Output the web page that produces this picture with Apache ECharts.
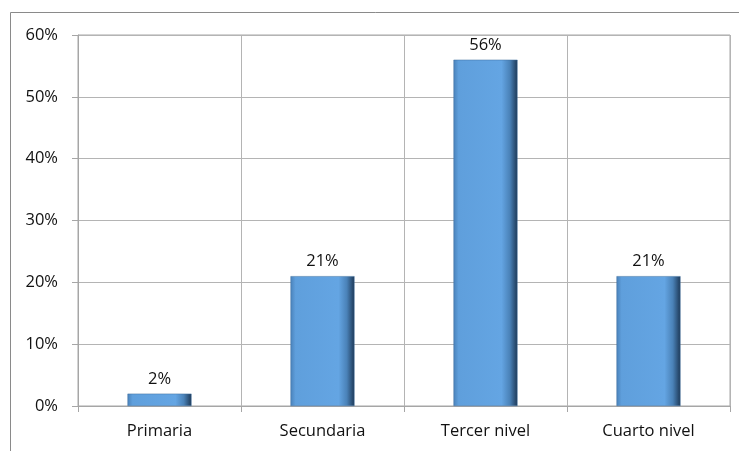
<!DOCTYPE html>
<html>
<head>
<meta charset="utf-8">
<script src="https://cdn.jsdelivr.net/npm/echarts@6/dist/echarts.min.js"></script>
<style>html,body{margin:0;padding:0;background:#fff}#c{width:739px;height:451px}</style>
</head>
<body>
<div id="c"></div>
<script>
const categories = ['Primaria', 'Secundaria', 'Tercer nivel', 'Cuarto nivel'];
const values = [2, 21, 56, 21];
const yTicks = [0, 10, 20, 30, 40, 50, 60];

const chart = echarts.init(document.getElementById('c'), null, {renderer: 'canvas'});
const font = '"Open Sans", sans-serif';
chart.setOption({
  animation: false,
  backgroundColor: '#fff',
  graphic: [{
    type: 'rect', silent: true,
    shape: {x: 10.5, y: 12.5, width: 800, height: 600},
    style: {fill: 'none', stroke: '#8a8a8a', lineWidth: 1}
  }],
  grid: {left: 78, right: 9, top: 35, bottom: 45, show: true, borderColor: '#a6a6a6', borderWidth: 1},
  xAxis: {
    type: 'category', data: categories,
    axisLine: {lineStyle: {color: '#a6a6a6'}},
    axisTick: {show: true, length: 6, lineStyle: {color: '#a6a6a6'}},
    splitLine: {show: true, lineStyle: {color: '#b4b4b4'}},
    axisLabel: {color: '#111', fontSize: 16.5, fontFamily: font, margin: 17}
  },
  yAxis: {
    type: 'value', min: 0, max: 60, interval: 10,
    axisLine: {show: true, lineStyle: {color: '#a6a6a6'}},
    axisTick: {show: true, length: 6, lineStyle: {color: '#a6a6a6'}},
    splitLine: {show: true, lineStyle: {color: '#b4b4b4'}},
    axisLabel: {color: '#111', fontSize: 16.5, fontFamily: font, margin: 20,
      formatter: v => yTicks.includes(v) ? v + '%' : ''}
  },
  series: [{
    type: 'bar', data: values, barWidth: 64,
    itemStyle: {
      color: new echarts.graphic.LinearGradient(0, 0, 1, 0, [
        {offset: 0, color: '#4a82ba'},
        {offset: 0.08, color: '#5f9fdc'},
        {offset: 0.75, color: '#64a5e3'},
        {offset: 0.88, color: '#4a82b8'},
        {offset: 1, color: '#1d3856'}
      ]),
      borderColor: '#3f6f9f', borderWidth: 0.5
    },
    label: {show: true, position: 'top', distance: 6, color: '#111', fontSize: 16.5, fontFamily: font,
      formatter: p => p.value + '%'}
  }]
});
</script>
</body>
</html>
